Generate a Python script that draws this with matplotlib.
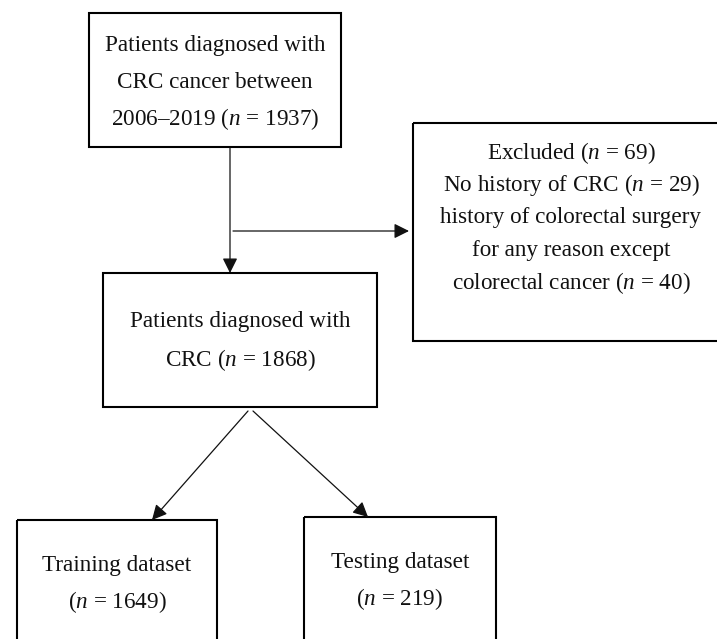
import matplotlib
matplotlib.use("Agg")
import matplotlib.pyplot as plt
from matplotlib.patches import Rectangle, FancyArrowPatch

plt.rcParams['font.family'] = ['Liberation Serif', 'DejaVu Serif']
plt.rcParams['mathtext.fontset'] = 'custom'
plt.rcParams['mathtext.rm'] = 'Liberation Serif'
plt.rcParams['mathtext.it'] = 'Liberation Serif:italic'

# ---- content ----
box_top_lines = ["Patients diagnosed with", "CRC cancer between", "2006–2019 ($n$ = 1937)"]
box_excl_lines = ["Excluded ($n$ = 69)", "No history of CRC ($n$ = 29)",
                  "history of colorectal surgery", "for any reason except",
                  "colorectal cancer ($n$ = 40)"]
box_mid_lines = ["Patients diagnosed with", "CRC ($n$ = 1868)"]
box_train_lines = ["Training dataset", "($n$ = 1649)"]
box_test_lines = ["Testing dataset", "($n$ = 219)"]

W, H = 717, 639
fig = plt.figure(figsize=(W / 100, H / 100), dpi=100)
ax = fig.add_axes([0, 0, 1, 1])
ax.set_xlim(0, W)
ax.set_ylim(H, 0)
ax.axis('off')

FS = 16.7

def box(x0, y0, x1, y1, lines, cx, cy, spacing):
    ax.add_patch(Rectangle((x0, y0), x1 - x0, y1 - y0, fill=False,
                           edgecolor='black', linewidth=1.5, clip_on=False))
    n = len(lines)
    for i, t in enumerate(lines):
        y = cy + (i - (n - 1) / 2) * spacing
        ax.text(cx, y, t, ha='center', va='center', fontsize=FS, color='#111111')

box(89, 13, 341, 147, box_top_lines, 215, 82, 37)
box(413, 123, 730, 341, box_excl_lines, 571, 218, 32.7)
box(103, 273, 377, 407, box_mid_lines, 240, 341, 38)
box(17, 520, 217, 660, box_train_lines, 117, 584, 37)
box(304, 517, 496, 660, box_test_lines, 400, 581, 37)

def arrow(p0, p1):
    a = FancyArrowPatch(p0, p1, arrowstyle='-|>,head_length=0.6,head_width=0.3',
                        mutation_scale=15, color='#111111', linewidth=0.9,
                        shrinkA=0, shrinkB=0)
    ax.add_patch(a)

arrow((230, 148), (230, 273))
arrow((233, 231), (409, 231))
arrow((248, 411), (152, 520))
arrow((253, 411), (368, 517))

fig.savefig("out.png", dpi=100, facecolor='white')
